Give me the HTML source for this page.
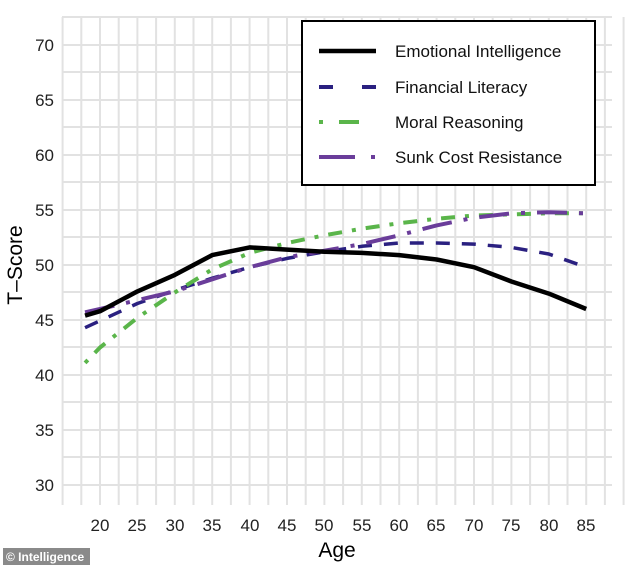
<!DOCTYPE html><html><head><meta charset="utf-8"><style>body{margin:0;background:#fff}svg{display:block;font-family:"Liberation Sans",sans-serif}</style></head><body>
<svg width="634" height="565" xmlns="http://www.w3.org/2000/svg">
<g stroke="#e2e2e2" stroke-width="2">
<line x1="62" x2="612" y1="17" y2="17"/><line x1="62" x2="612" y1="45" y2="45"/><line x1="62" x2="612" y1="72" y2="72"/><line x1="62" x2="612" y1="100" y2="100"/><line x1="62" x2="612" y1="127" y2="127"/><line x1="62" x2="612" y1="155" y2="155"/><line x1="62" x2="612" y1="182" y2="182"/><line x1="62" x2="612" y1="210" y2="210"/><line x1="62" x2="612" y1="237" y2="237"/><line x1="62" x2="612" y1="265" y2="265"/><line x1="62" x2="612" y1="292" y2="292"/><line x1="62" x2="612" y1="320" y2="320"/><line x1="62" x2="612" y1="347" y2="347"/><line x1="62" x2="612" y1="375" y2="375"/><line x1="62" x2="612" y1="402" y2="402"/><line x1="62" x2="612" y1="430" y2="430"/><line x1="62" x2="612" y1="457" y2="457"/><line x1="62" x2="612" y1="485" y2="485"/>
</g>
<g stroke="#e2e2e2" stroke-width="2" id="v"></g>
<script>
var g=document.getElementById('v');for(var a=15;a<=90;a+=2.5){var x=100+(a-20)*7.48;var l=document.createElementNS('http://www.w3.org/2000/svg','line');l.setAttribute('x1',x);l.setAttribute('x2',x);l.setAttribute('y1',17);l.setAttribute('y2',505);g.appendChild(l);}
</script>
<g font-size="17" fill="#222" text-anchor="end">
<text x="54" y="51">70</text><text x="54" y="106">65</text><text x="54" y="161">60</text><text x="54" y="216">55</text><text x="54" y="271">50</text><text x="54" y="326">45</text><text x="54" y="381">40</text><text x="54" y="436">35</text><text x="54" y="491">30</text>
</g>
<g font-size="17" fill="#222" text-anchor="middle">
<text x="100" y="531">20</text><text x="137" y="531">25</text><text x="175" y="531">30</text><text x="212" y="531">35</text><text x="250" y="531">40</text><text x="287" y="531">45</text><text x="324" y="531">50</text><text x="362" y="531">55</text><text x="399" y="531">60</text><text x="436" y="531">65</text><text x="474" y="531">70</text><text x="511" y="531">75</text><text x="549" y="531">80</text><text x="586" y="531">85</text>
</g>
<text x="337" y="557" font-size="21" text-anchor="middle" fill="#000">Age</text>
<text transform="translate(22,265) rotate(-90)" font-size="21" text-anchor="middle" fill="#000">T–Score</text>
<g fill="none" id="c"></g>
<script>
function X(a){return 100+(a-20)*7.48}function Y(v){return 485-(v-30)*11}
var S=[
{c:"#2a2080",w:3.5,d:"14 12",p:[[18,44.3],[25,46.5],[30,47.7],[35,48.8],[40,49.8],[45,50.6],[50,51.2],[55,51.7],[60,52],[65,52],[70,51.9],[75,51.6],[80,51],[85,49.8]]},
{c:"#5ab54a",w:4,d:"4 10 14 10",p:[[18,41.1],[20,42.5],[25,45.2],[30,47.5],[35,49.6],[40,51.1],[45,52],[50,52.7],[55,53.3],[60,53.8],[65,54.2],[70,54.5],[75,54.6],[80,54.7],[85,54.7]]},
{c:"#6a3d9a",w:4,d:"30 12 4 12",p:[[18,45.7],[20,46],[25,46.8],[30,47.6],[35,48.7],[40,49.8],[45,50.7],[50,51.3],[55,51.9],[60,52.7],[65,53.6],[70,54.3],[75,54.7],[80,54.8],[85,54.7]]},
{c:"#000",w:4.5,d:"",p:[[18,45.4],[20,45.8],[25,47.6],[30,49.1],[35,50.9],[40,51.6],[45,51.4],[50,51.2],[55,51.1],[60,50.9],[65,50.5],[70,49.8],[75,48.5],[80,47.4],[85,46]]}];
var cg=document.getElementById('c');S.forEach(function(s){var p=document.createElementNS('http://www.w3.org/2000/svg','polyline');p.setAttribute('points',s.p.map(function(q){return X(q[0])+','+Y(q[1])}).join(' '));p.setAttribute('stroke',s.c);p.setAttribute('stroke-width',s.w);if(s.d)p.setAttribute('stroke-dasharray',s.d);p.setAttribute('stroke-linejoin','round');cg.appendChild(p);});
</script>
<rect x="302" y="21" width="293" height="164" fill="#fff" stroke="#000" stroke-width="2"/>
<line x1="319" x2="376" y1="51" y2="51" stroke="#000" stroke-width="4.5"/>
<line x1="319" x2="376" y1="87" y2="87" stroke="#2a2080" stroke-width="4" stroke-dasharray="14 29"/>
<line x1="319" x2="376" y1="122" y2="122" stroke="#5ab54a" stroke-width="4" stroke-dasharray="4 16 20 20"/>
<line x1="319" x2="376" y1="157" y2="157" stroke="#6a3d9a" stroke-width="4" stroke-dasharray="36 16 4 20"/>
<g font-size="17" fill="#111">
<text x="395" y="57">Emotional Intelligence</text><text x="395" y="93">Financial Literacy</text><text x="395" y="128">Moral Reasoning</text><text x="395" y="163">Sunk Cost Resistance</text>
</g>
<rect x="3" y="548" width="87" height="17" fill="#8a8a8a"/>
<text x="6" y="561" font-size="12" font-weight="bold" fill="#fff">© Intelligence</text>
</svg></body></html>
